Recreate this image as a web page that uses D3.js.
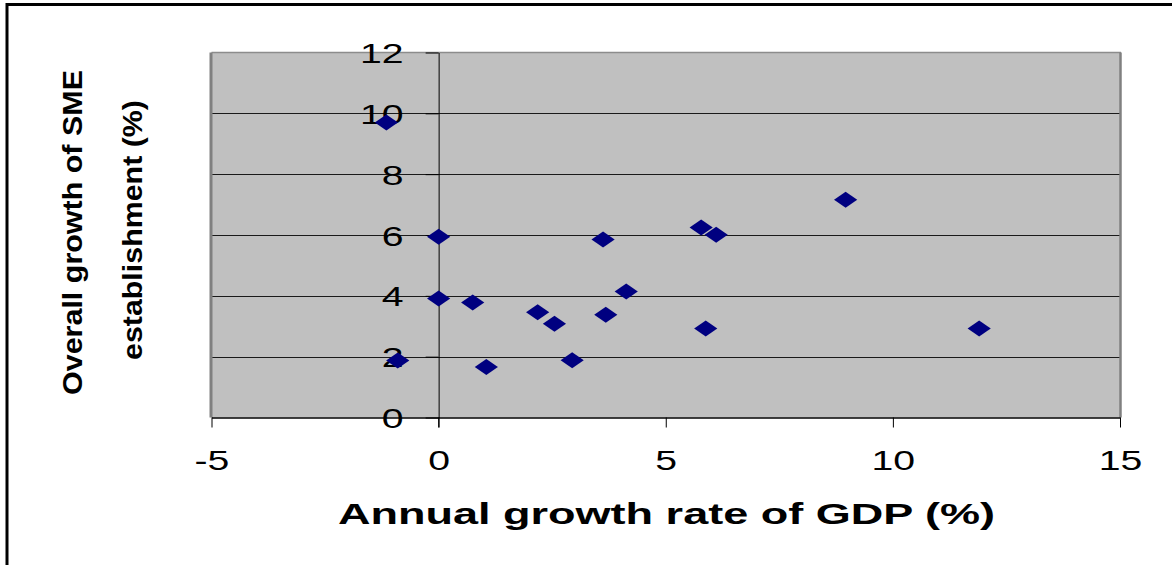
<!DOCTYPE html>
<html>
<head>
<meta charset="utf-8">
<script src="https://cdn.jsdelivr.net/npm/d3@7"></script>
<style>
  html, body { margin: 0; padding: 0; background: #fff; }
  svg { display: block; }
  text { font-family: "Liberation Sans", Arial, sans-serif; }
</style>
</head>
<body>
<svg id="chart" width="1172" height="565"></svg>
<script>
// Annual GDP growth (%) against overall SME establishment growth (%)
const gdpGrowth = [-1.15, -0.9, 0.0, 0.0, 0.75, 1.05, 2.18, 2.55, 2.94, 3.62, 3.68, 4.13, 5.78, 6.11, 5.88, 8.96, 11.9];
const smeGrowth = [9.7, 1.87, 5.94, 3.91, 3.78, 1.66, 3.46, 3.08, 1.88, 5.85, 3.38, 4.14, 6.25, 6.01, 2.93, 7.16, 2.93];

const xTicks = [-5, 0, 5, 10, 15];
const yTicks = [0, 2, 4, 6, 8, 10, 12];
const xTitle = "Annual growth rate of GDP (%)";
const yTitleLines = ["Overall growth of SME", "establishment (%)"];

const svg = d3.select("#chart");
const plot = { left: 211.5, right: 1120, top: 52.5, bottom: 417.5 };
const stretch = 1.4; // wide glyphs
const fmt = d => String(d); // plain hyphen for negatives

const x = d3.scaleLinear().domain([-5, 15]).range([plot.left, plot.right]);
const y = d3.scaleLinear().domain([0, 12]).range([plot.bottom, plot.top]);

// outer frame (only top and left edges fall inside the page)
svg.append("line").attr("x1", 7).attr("x2", 1172).attr("y1", 4.5).attr("y2", 4.5)
  .attr("stroke", "#000").attr("stroke-width", 3);
svg.append("line").attr("x1", 7).attr("x2", 7).attr("y1", 3).attr("y2", 565)
  .attr("stroke", "#000").attr("stroke-width", 3);

// plot background
svg.append("rect")
  .attr("x", plot.left).attr("y", plot.top)
  .attr("width", plot.right - plot.left).attr("height", plot.bottom - plot.top)
  .attr("fill", "#c0c0c0");

// horizontal gridlines
svg.append("g").selectAll("line")
  .data(yTicks.filter(v => v > 0 && v < 12))
  .join("line")
  .attr("x1", plot.left).attr("x2", plot.right)
  .attr("y1", d => Math.round(y(d)) + 0.5).attr("y2", d => Math.round(y(d)) + 0.5)
  .attr("stroke", "#1a1a1a").attr("stroke-width", 1);

// plot border: grey top, left, right
svg.append("line").attr("x1", plot.left).attr("x2", plot.right + 1)
  .attr("y1", plot.top).attr("y2", plot.top).attr("stroke", "#8c8c8c").attr("stroke-width", 1.5);
svg.append("line").attr("x1", plot.left - 0.5).attr("x2", plot.left - 0.5)
  .attr("y1", plot.top).attr("y2", plot.bottom).attr("stroke", "#808080").attr("stroke-width", 3);
svg.append("line").attr("x1", plot.right + 0.5).attr("x2", plot.right + 0.5)
  .attr("y1", plot.top).attr("y2", plot.bottom).attr("stroke", "#808080").attr("stroke-width", 2.5);

// x axis along y = 0
const xAxis = svg.append("g")
  .attr("transform", `translate(0,${plot.bottom})`)
  .call(d3.axisBottom(x).tickValues(xTicks).tickSize(10).tickSizeOuter(0).tickFormat(fmt));
xAxis.select(".domain").attr("stroke", "#000").attr("stroke-width", 1.5);
xAxis.selectAll(".tick line").attr("stroke", "#000").attr("stroke-width", 1);
xAxis.selectAll(".tick text")
  .attr("y", 53).attr("dy", null)
  .attr("transform", `scale(${stretch},1)`)
  .attr("font-size", 28).attr("fill", "#000")
  .attr("font-family", "Liberation Sans, Arial, sans-serif");

// y axis crossing at x = 0
const yAxis = svg.append("g")
  .attr("transform", `translate(${x(0)},0)`)
  .call(d3.axisLeft(y).tickValues(yTicks).tickSize(13).tickSizeOuter(0).tickFormat(fmt));
yAxis.select(".domain").attr("stroke", "#000").attr("stroke-width", 1);
yAxis.selectAll(".tick line").attr("stroke", "#000").attr("stroke-width", 1);
yAxis.selectAll(".tick text")
  .attr("x", -25).attr("dy", "0.36em")
  .attr("transform", `scale(${stretch},1)`)
  .attr("font-size", 28).attr("fill", "#000")
  .attr("font-family", "Liberation Sans, Arial, sans-serif");
// the y axis line continues down through the x tick at 0
yAxis.append("line").attr("x1", 0).attr("x2", 0)
  .attr("y1", plot.bottom).attr("y2", plot.bottom + 10).attr("stroke", "#000");

// diamond markers
const points = gdpGrowth.map((g, i) => ({ g, s: smeGrowth[i] }));
const diamond = d3.symbol().type(d3.symbolSquare).size(128);
svg.append("g").selectAll("path")
  .data(points)
  .join("path")
  .attr("d", diamond)
  .attr("transform", d => `translate(${x(d.g)},${y(d.s)}) scale(1.45,1) rotate(45)`)
  .attr("fill", "#000080");

// axis titles
svg.append("text")
  .attr("x", 338).attr("y", 524)
  .attr("textLength", 657).attr("lengthAdjust", "spacingAndGlyphs")
  .attr("font-size", 29).attr("font-weight", "bold").attr("fill", "#000")
  .text(xTitle);

const yTitle = [
  { text: yTitleLines[0], bx: 82, from: 395, to: 70 },
  { text: yTitleLines[1], bx: 142, from: 360, to: 100 }
];
svg.append("g").selectAll("text")
  .data(yTitle)
  .join("text")
  .attr("transform", d => `translate(${d.bx},${d.from}) rotate(-90)`)
  .attr("x", 0).attr("y", 0)
  .attr("textLength", d => d.from - d.to).attr("lengthAdjust", "spacingAndGlyphs")
  .attr("font-size", 28).attr("font-weight", "bold").attr("fill", "#000")
  .text(d => d.text);
</script>
</body>
</html>
